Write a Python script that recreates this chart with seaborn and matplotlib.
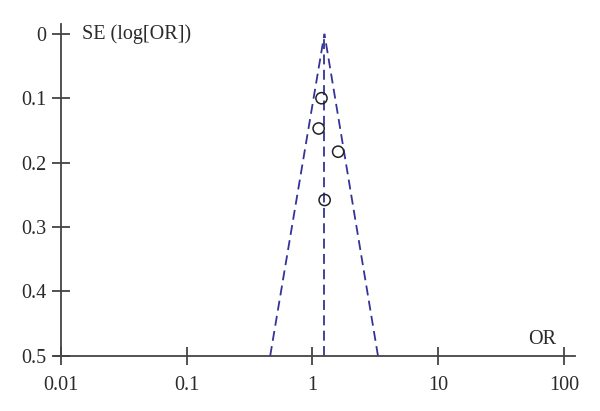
import matplotlib
matplotlib.use("Agg")
import matplotlib.pyplot as plt
import seaborn as sns
import pandas as pd

# Study data (odds ratio, standard error of log OR)
study_or = [1.18, 1.12, 1.60, 1.25]
study_se = [0.100, 0.147, 0.183, 0.258]

# Funnel (pooled OR and 95% pseudo-confidence limits)
funnel_left_or = [0.461, 1.245]
funnel_right_or = [3.32, 1.245]
funnel_se = [0.5, 0.0]
center_or = [1.245, 1.245]

x_ticks = [0.01, 0.1, 1, 10, 100]
x_ticklabels = ["0.01", "0.1", "1", "10", "100"]
y_ticks = [0, 0.1, 0.2, 0.3, 0.4, 0.5]
y_ticklabels = ["0", "0.1", "0.2", "0.3", "0.4", "0.5"]

sns.set_style("white")
plt.rcParams["font.family"] = ["Liberation Serif", "DejaVu Serif"]

fig = plt.figure(figsize=(6.0, 4.11), dpi=100)
ax = fig.add_axes([0.09, 0.134, 0.868, 0.807])

line_col = "#33339a"
dash = (5.5, 3.0)
df_l = pd.DataFrame({"or": funnel_left_or, "se": funnel_se})
df_r = pd.DataFrame({"or": funnel_right_or, "se": funnel_se})
df_c = pd.DataFrame({"or": center_or, "se": funnel_se})
for d in (df_l, df_r, df_c):
    sns.lineplot(data=d, x="or", y="se", ax=ax, color=line_col, lw=1.3,
                 sort=False, estimator=None, dashes=False, linestyle=(0, dash))

df_pts = pd.DataFrame({"or": study_or, "se": study_se})
sns.scatterplot(data=df_pts, x="or", y="se", ax=ax, s=65, marker="o",
                facecolor="none", edgecolor="#222222", linewidth=1.1, zorder=5)

ax.set_xscale("log")
ax.set_xlim(0.0088, 122)
ax.set_ylim(0.5, -0.0148)

ax.spines["top"].set_visible(False)
ax.spines["right"].set_visible(False)
ax.spines["left"].set_position(("data", 0.01))
for s in ("left", "bottom"):
    ax.spines[s].set_color("#444444")
    ax.spines[s].set_linewidth(1.3)

ax.set_xticks(x_ticks)
ax.set_xticklabels(x_ticklabels)
ax.set_yticks(y_ticks)
ax.set_yticklabels(y_ticklabels)
ax.minorticks_off()
ax.tick_params(axis="both", direction="inout", length=13, width=1.3,
               color="#444444", labelsize=14.5, labelcolor="#2a2a2a",
               bottom=True, left=True)
ax.tick_params(axis="x", pad=8)
ax.tick_params(axis="y", pad=4)
ax.set_xlabel("")
ax.set_ylabel("")
ax.grid(False)

ax.text(0.0147, 0.0, "SE (log[OR])", fontsize=14.5, color="#2a2a2a",
        ha="left", va="center")
ax.text(86.5, 0.474, "OR", fontsize=14.5, color="#2a2a2a",
        ha="right", va="center")

fig.savefig("out.png", dpi=100)
